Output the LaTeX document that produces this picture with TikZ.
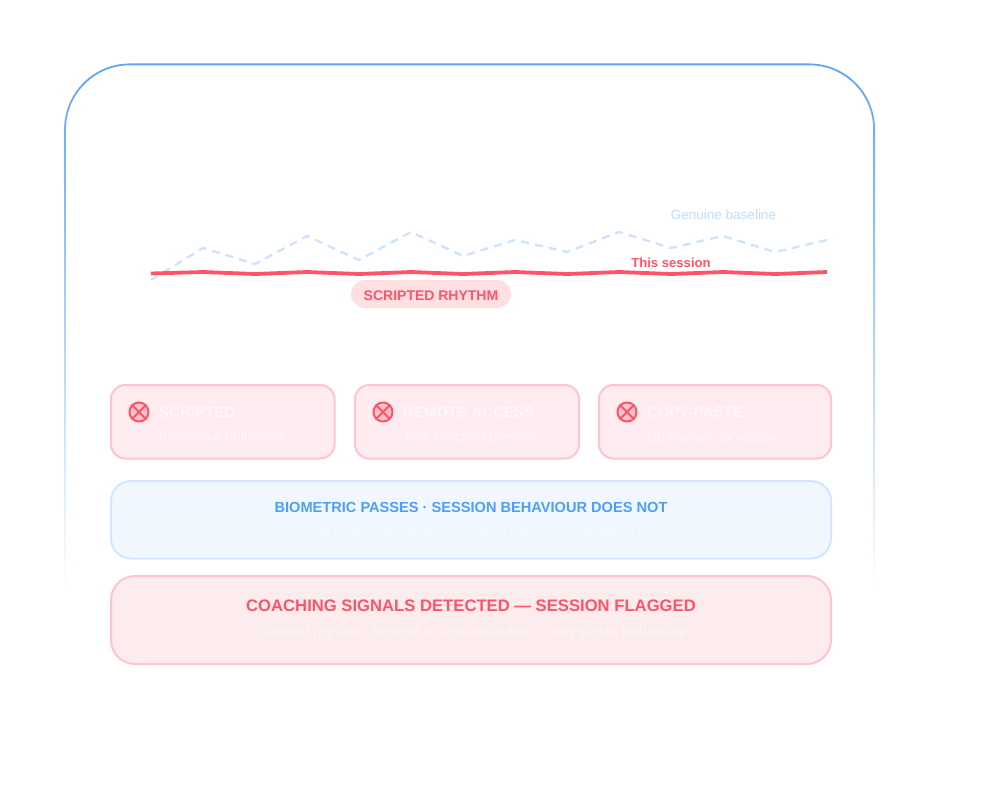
\documentclass[tikz,border=0pt]{standalone}
\usepackage{fontspec}
\setmainfont{Liberation Sans}
\usetikzlibrary{fadings}

\definecolor{framecol}{HTML}{5BA4FB}
\definecolor{basecol}{HTML}{CFE3FC}
\definecolor{baselabelcol}{HTML}{BFDAFD}
\definecolor{redcol}{HTML}{FF5468}
\definecolor{chipcol}{HTML}{FFDFE2}
\definecolor{cardfill}{HTML}{FEECF0}
\definecolor{carddraw}{HTML}{FFC4CC}
\definecolor{cardtext}{HTML}{FFF7F9}
\definecolor{bluefill}{HTML}{F1F7FF}
\definecolor{bluedraw}{HTML}{D3E6FD}
\definecolor{bluetext}{HTML}{4F9EFB}
\definecolor{bluesub}{HTML}{F7FAFF}
\definecolor{flagfill}{HTML}{FDECEE}
\definecolor{flagdraw}{HTML}{FFC5C8}
\definecolor{flagsub}{HTML}{FFF5F6}

\tikzfading[name=framefade, top color=transparent!0, bottom color=transparent!100]

\tikzset{
    panel/.style={anchor=north west, outer sep=0pt, inner sep=0pt, line width=2pt},
    card/.style={panel, draw=carddraw, fill=cardfill, rounded corners=14pt, minimum height=73.5pt},
    cardtitle/.style={anchor=west, inner sep=0pt, text=cardtext, font=\fontsize{15}{18}\selectfont\bfseries},
    cardsub/.style={anchor=west, inner sep=0pt, text=cardtext, font=\fontsize{14}{16}\selectfont},
    crossicon/.style={circle, draw=redcol, fill=carddraw, line width=2pt, minimum size=19pt, inner sep=0pt}
}

\begin{document}
\begin{tikzpicture}[x=1pt, y=-1pt]
    \useasboundingbox (0,0) rectangle (1007,804);

    % outer frame, fades out downwards
    \draw[framecol, line width=1.8pt, rounded corners=65pt, path fading=framefade]
        (65.5,590) -- (65.5,64.5) -- (875.5,64.5) -- (875.5,590);

    % genuine baseline
    \draw[basecol, line width=2.4pt, dash pattern=on 8pt off 6.1pt]
        plot coordinates {(151,280) (203,248) (255,264) (307,236) (359,260) (411,232) (463,256)
                          (515,240) (567,252) (619,232) (671,248) (723,236) (775,252) (827,240)};
    \node[inner sep=0pt, text=baselabelcol, font=\fontsize{13.5}{16}\selectfont] (baselabel) at (723.5,215) {Genuine baseline};

    % this session
    \draw[redcol, line width=3.8pt]
        plot coordinates {(151,273.5) (203,272) (255,274) (307,272) (359,274) (411,272) (463,274)
                          (515,272) (567,274) (619,272) (671,274) (723,272) (775,274) (827,272)};
    \node[inner sep=0pt, text=redcol, font=\fontsize{13.1}{15}\selectfont\bfseries] (sessionlabel) at (671,263) {This session};

    % chip under the line
    \node[fill=chipcol, text=redcol, rounded corners=14pt, inner sep=0pt, minimum width=160pt, minimum height=28pt,
          text height=13pt, text depth=0pt, font=\fontsize{14}{16}\selectfont\bfseries] (chip) at (431,294) {SCRIPTED RHYTHM};

    % three signal cards
    \foreach \cname/\xa/\cw/\ttl/\subtxt in {scripted/111/223.5/SCRIPTED/Keystroke uniformity,
                                             remote/355/224/REMOTE ACCESS/Tool indicator present,
                                             copy/599/232/COPY-PASTE/No human correction} {
        \node[card, minimum width=\cw pt] (\cname) at (\xa,385) {};
        \node[crossicon] (\cname icon) at (\xa+28,412) {};
        \draw[redcol, line width=1.8pt] (\cname icon.north west) -- (\cname icon.south east);
        \draw[redcol, line width=1.8pt] (\cname icon.north east) -- (\cname icon.south west);
        \node[cardtitle] (\cname title) at (\xa+48,412) {\ttl};
        \node[cardsub] (\cname sub) at (\xa+48,437.5) {\subtxt};
    }

    % biometric box
    \node[panel, draw=bluedraw, fill=bluefill, rounded corners=20pt, minimum width=720pt, minimum height=77.5pt] (biobox) at (111,481) {};
    \node[inner sep=0pt, text=bluetext, font=\fontsize{14.6}{18}\selectfont\bfseries] (biotitle) at (471,507)
        {BIOMETRIC PASSES · SESSION BEHAVIOUR DOES NOT};
    \node[inner sep=0pt, text=bluesub, font=\fontsize{15}{17}\selectfont] (biosub) at (471,532)
        {Coaching detected independently of identity verification result};

    % flagged box
    \node[panel, draw=flagdraw, fill=flagfill, rounded corners=24pt, minimum width=720pt, minimum height=88pt] (flagbox) at (111,576) {};
    \node[inner sep=0pt, text=redcol, font=\fontsize{16.65}{20}\selectfont\bfseries] (flagtitle) at (471,605.5)
        {COACHING SIGNALS DETECTED — SESSION FLAGGED};
    \node[inner sep=0pt, text=flagsub, font=\fontsize{15}{17}\selectfont] (flagsubtext) at (471,632.5)
        {Scripted rhythm · remote access indicator · copy-paste behaviour};
\end{tikzpicture}
\end{document}
